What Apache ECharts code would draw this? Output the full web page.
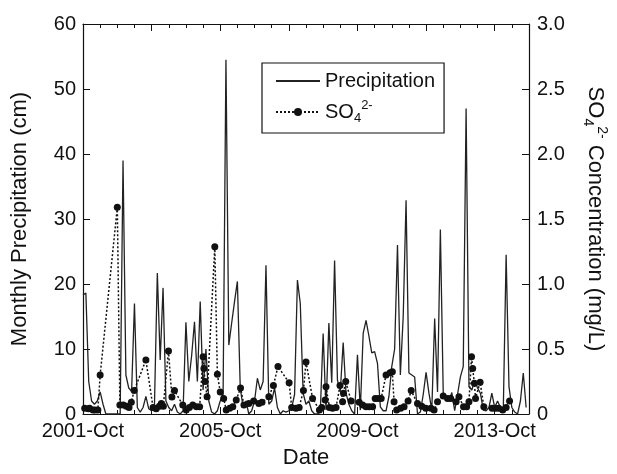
<!DOCTYPE html>
<html>
<head>
<meta charset="utf-8">
<script src="https://cdn.jsdelivr.net/npm/echarts@6/dist/echarts.min.js"></script>
<style>
  html, body { margin: 0; padding: 0; background: #fff; }
  #chart { width: 617px; height: 474px; }
</style>
</head>
<body>
<div id="chart"></div>
<script>
// months counted from 2001-Oct (0) to 2014-Oct (156)
const xTickLabels = ['2001-Oct', '2005-Oct', '2009-Oct', '2013-Oct']

// monthly precipitation (cm), one value per month starting 2001-Oct
const precipitation = [
  18.3, 18.6, 5, 2, 1.5, 2, 3.4, 1.5, 0, 0, 0, 0,
  0, 0, 39, 6, 4, 3.5, 17, 1, 0.3, 1, 2.7, 0.8,
  0.5, 1.5, 21.7, 8.3, 19.4, 2, 1, 0.5, 1.5, 0.3, 0, 0.5,
  14.1, 5, 9, 14.2, 5, 17.3, 3.7, 10, 2, 0.3, 0, 0.5,
  2, 3, 54.5, 10.6, 14, 17.3, 20.4, 4, 1, 2, 0, 0.5,
  2, 5.5, 3.7, 5, 22.9, 1.5, 2, 4, 1, 0, 0.5, 0.3,
  0.5, 1, 3, 20.6, 17, 3.2, 1.5, 2, 0.5, 0, 0, 0.3,
  12.4, 0.6, 14, 4.8, 23.6, 5.2, 3.5, 11, 3.2, 1.5, 0.5, 0,
  9.1, 0.6, 12.4, 14.4, 12, 9.4, 9.6, 7.8, 1.1, 0.5, 0.5, 2.7,
  7.3, 10, 26, 6, 15, 32.9, 6.3, 6, 5.7, 0, 0.3, 3,
  6.4, 3.2, 0.6, 14.7, 3.4, 28.4, 3.2, 2.5, 2, 3.3, 0.5, 3,
  5.7, 7.3, 47, 4.2, 3.7, 5.2, 4, 3.2, 0.6, 0.5, 1, 3.2,
  1, 2, 1, 0.5, 24.5, 4.2, 1, 0.3, 0, 2, 6.3, 1
]

// sulfate samples: month position and concentration (mg/L)
const so4Month = [
  0.6, 1.9, 2.3, 3.5, 4.2, 5.2, 6.0, 12.0, 12.9, 14.1, 15.2, 16.1,
  16.9, 17.9, 22.0, 24.5, 25.6, 26.7, 27.4, 28.1, 29.9, 31.1, 32.0, 34.9,
  36.1, 37.2, 38.4, 39.7, 40.8, 42.0, 42.3, 42.7, 43.4, 46.1, 47.0, 48.0,
  49.2, 50.1, 51.3, 52.4, 53.6, 55.1, 56.3, 58.0, 59.7, 61.5, 62.6, 65.0,
  66.6, 68.2, 72.1, 73.0, 74.5, 75.6, 77.1, 78.0, 80.3, 82.7, 83.5, 84.7,
  85.0, 86.2, 87.3, 88.5, 89.9, 90.8, 91.1, 91.9, 93.8, 96.6, 97.8, 99.0,
  100.1, 101.3, 102.2, 103.2, 104.3, 106.0, 107.4, 108.2, 108.8, 109.7, 111.1, 112.3,
  113.7, 114.8, 117.0, 118.5, 119.9, 121.7, 122.8, 124.0, 126.0, 127.5, 128.6, 130.5,
  131.5, 133.1, 134.2, 135.0, 135.9, 136.3, 136.9, 137.3, 138.9, 140.2, 143.1, 144.3,
  145.4, 146.8, 148.0, 149.2
]
const so4Value = [
  0.044, 0.04, 0.045, 0.03, 0.03, 0.03, 0.30, 1.59, 0.07, 0.07, 0.06, 0.05,
  0.09, 0.18, 0.415, 0.05, 0.04, 0.06, 0.08, 0.06, 0.485, 0.13, 0.18, 0.07,
  0.03, 0.05, 0.07, 0.056, 0.056, 0.44, 0.35, 0.25, 0.133, 1.287, 0.305, 0.17,
  0.12, 0.03, 0.044, 0.056, 0.108, 0.2, 0.07, 0.08, 0.1, 0.08, 0.09, 0.133,
  0.22, 0.365, 0.24, 0.05, 0.044, 0.05, 0.18, 0.40, 0.12, 0.03, 0.05, 0.108,
  0.21, 0.05, 0.044, 0.05, 0.22, 0.095, 0.16, 0.25, 0.1, 0.09, 0.07, 0.056,
  0.056, 0.056, 0.12, 0.12, 0.12, 0.30, 0.318, 0.325, 0.095, 0.03, 0.044, 0.056,
  0.1, 0.18, 0.08, 0.06, 0.044, 0.044, 0.03, 0.095, 0.138, 0.12, 0.12, 0.095,
  0.133, 0.056, 0.056, 0.095, 0.44, 0.35, 0.236, 0.12, 0.245, 0.056, 0.044, 0.044,
  0.044, 0.03, 0.05, 0.1
]

const font = 'Liberation Sans, Arial, Helvetica, sans-serif'
const ink = '#111'

const chart = echarts.init(document.getElementById('chart'))

const axisLine = { show: true, onZero: false, lineStyle: { color: ink, width: 1.2 } }
const axisTick = { show: true, inside: true, length: 7, lineStyle: { color: ink } }

const xAxisBase = {
  type: 'value',
  min: 0,
  max: 156,
  interval: 24,
  axisLine,
  axisTick,
  minorTick: { show: true, splitNumber: 4, length: 4, lineStyle: { color: ink } },
  splitLine: { show: false },
}

const option = {
  animation: false,
  backgroundColor: '#fff',
  textStyle: { fontFamily: font, color: ink },
  grid: { left: 83, right: 85, top: 24, bottom: 60 },
  legend: {
    orient: 'vertical',
    left: 262,
    top: 63,
    padding: [8, 9, 8, 13],
    itemGap: 8,
    itemWidth: 44,
    itemHeight: 10,
    borderColor: ink,
    borderWidth: 1.2,
    data: [
      { name: 'Precipitation', itemStyle: { opacity: 0 } },
      { name: 'SO4' },
    ],
    formatter: (name) => (name === 'SO4' ? '{a|SO}{sub|4}{sup|2-}' : name),
    textStyle: {
      fontFamily: font,
      fontSize: 20,
      color: ink,
      rich: {
        a: { fontSize: 20, fontFamily: font, color: ink, lineHeight: 26, verticalAlign: 'middle' },
        sub: { fontSize: 13, fontFamily: font, color: ink, lineHeight: 26, verticalAlign: 'bottom' },
        sup: { fontSize: 13, fontFamily: font, color: ink, lineHeight: 26, verticalAlign: 'top' },
      },
    },
  },
  xAxis: [
    {
      ...xAxisBase,
      position: 'bottom',
      name: 'Date',
      nameLocation: 'middle',
      nameGap: 33,
      nameTextStyle: { fontSize: 22, fontFamily: font, color: ink },
      axisLabel: {
        margin: 7,
        fontSize: 20,
        fontFamily: font,
        color: ink,
        formatter: (v) => (v % 48 === 0 ? xTickLabels[v / 48] : ''),
      },
    },
    {
      ...xAxisBase,
      position: 'top',
      axisLabel: { show: false },
    },
  ],
  yAxis: [
    {
      type: 'value',
      position: 'left',
      min: 0,
      max: 60,
      interval: 10,
      name: 'Monthly Precipitation (cm)',
      nameLocation: 'middle',
      nameRotate: 90,
      nameGap: 52,
      nameTextStyle: { fontSize: 22, fontFamily: font, color: ink },
      axisLine,
      axisTick,
      axisLabel: { margin: 7, fontSize: 20, fontFamily: font, color: ink },
      splitLine: { show: false },
    },
    {
      type: 'value',
      position: 'right',
      min: 0,
      max: 3,
      interval: 0.5,
      name: '{a|SO}{sub|4}{sup|2-}{a| Concentration (mg/L)}',
      nameLocation: 'middle',
      nameRotate: -90,
      nameGap: 52,
      nameTextStyle: {
        fontFamily: font,
        color: ink,
        rich: {
          a: { fontSize: 22, fontFamily: font, color: ink, lineHeight: 28, verticalAlign: 'middle' },
          sub: { fontSize: 14, fontFamily: font, color: ink, lineHeight: 28, verticalAlign: 'bottom' },
          sup: { fontSize: 14, fontFamily: font, color: ink, lineHeight: 28, verticalAlign: 'top' },
        },
      },
      axisLine,
      axisTick,
      axisLabel: {
        margin: 8,
        fontSize: 20,
        fontFamily: font,
        color: ink,
        formatter: (v) => (v === 0 ? '0' : v.toFixed(1)),
      },
      splitLine: { show: false },
    },
  ],
  series: [
    {
      name: 'Precipitation',
      type: 'line',
      xAxisIndex: 0,
      yAxisIndex: 0,
      symbol: 'none',
      lineStyle: { color: '#222', width: 1.3 },
      itemStyle: { color: '#222' },
      data: precipitation.map((v, i) => [i, v]),
    },
    {
      name: 'SO4',
      type: 'line',
      xAxisIndex: 0,
      yAxisIndex: 1,
      symbol: 'circle',
      symbolSize: 7,
      lineStyle: { color: '#111', width: 1.5, type: [2, 2] },
      itemStyle: { color: '#111' },
      data: so4Month.map((m, i) => [m, so4Value[i]]),
    },
  ],
}

chart.setOption(option)
</script>
</body>
</html>
